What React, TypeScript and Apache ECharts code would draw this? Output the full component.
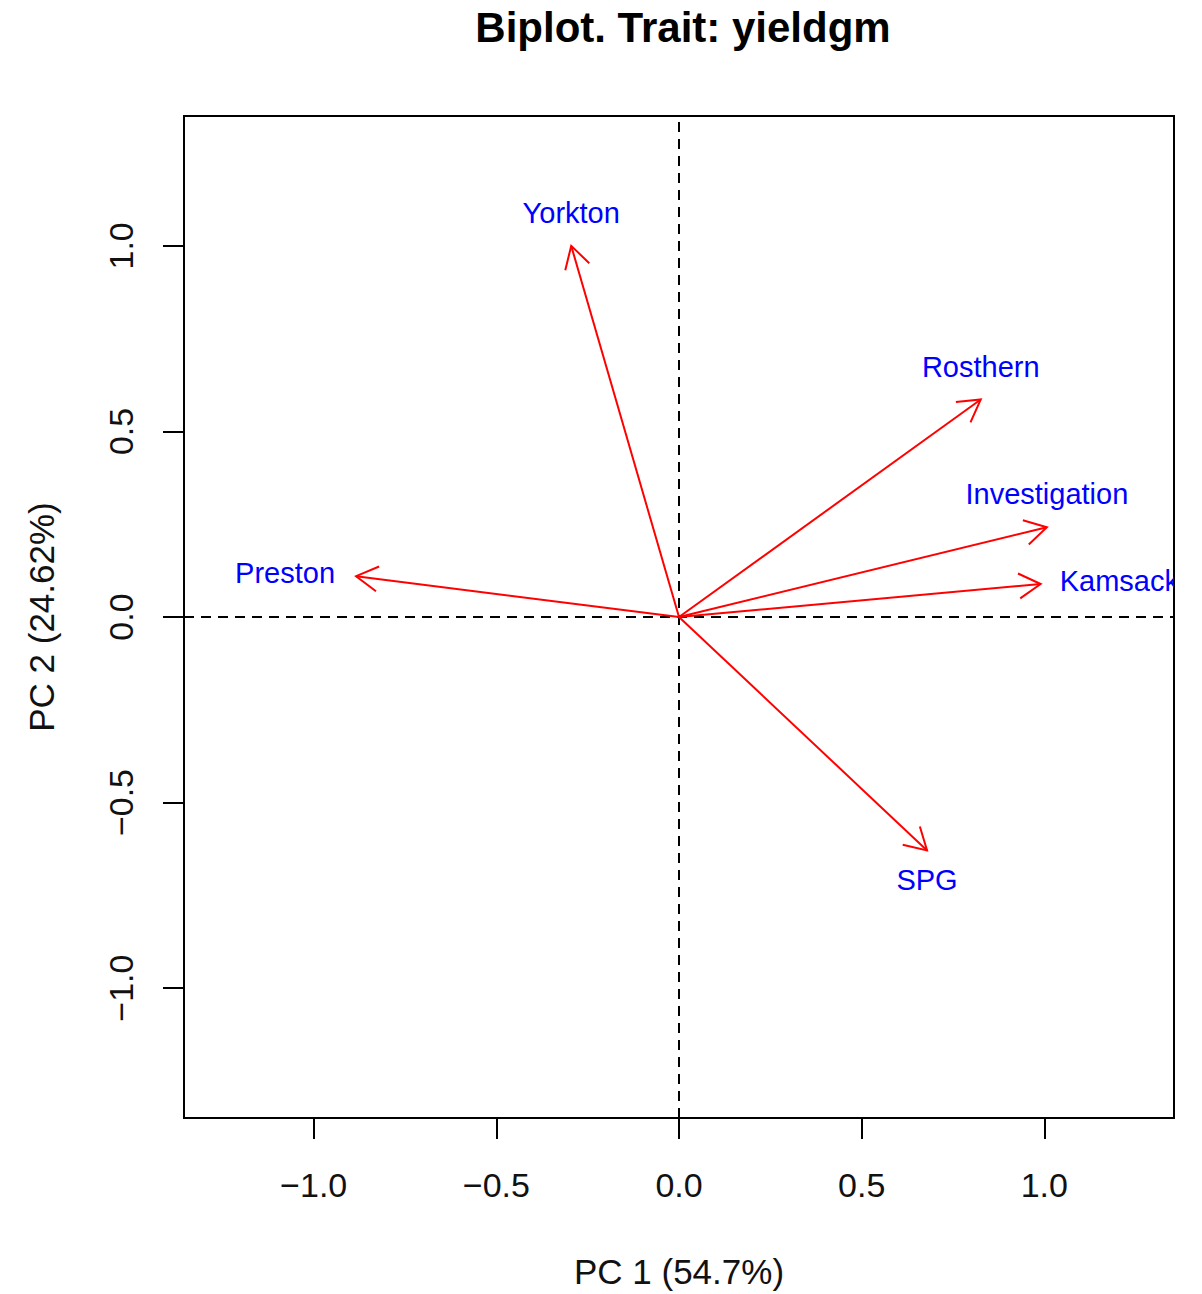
import React, { useEffect, useRef } from "react";
import * as echarts from "echarts";

const titleText = "Biplot. Trait: yieldgm";
const xName = "PC 1 (54.7%)";
const yName = "PC 2 (24.62%)";
const sites = ["Yorkton", "Rosthern", "Investigation", "Kamsack", "Preston", "SPG"];
const pc1 = [-0.295, 0.826, 1.007, 0.99, -0.884, 0.679];
const pc2 = [1.0, 0.586, 0.242, 0.089, 0.11, -0.629];
const labelPlacement = ["top", "top", "top", "right", "left", "bottom"];
const xTicks = [-1, -0.5, 0, 0.5, 1];
const yTicks = [-1, -0.5, 0, 0.5, 1];

const FONT = "'Liberation Sans', Arial, sans-serif";
const fmt = (v: number) => v.toFixed(1).replace("-", "\u2212");

export default function App() {
  const ref = useRef<HTMLDivElement>(null);
  useEffect(() => {
    document.body.style.margin = "0";
    const chart = echarts.init(ref.current!, null, { renderer: "svg" });
    const data = sites.map((s, i) => [pc1[i], pc2[i], i]);
    chart.setOption({
      animation: false,
      backgroundColor: "#fff",
      title: {
        text: titleText,
        left: 678,
        top: 1,
        textAlign: "center",
        textStyle: { fontFamily: FONT, fontSize: 42, fontWeight: "bold", color: "#000" },
      },
      grid: {
        left: 184,
        right: 28,
        top: 116,
        bottom: 174,
        show: true,
        borderColor: "#000",
        borderWidth: 2,
        backgroundColor: "transparent",
      },
      graphic: [
        {
          type: "rect",
          left: 1176,
          top: 0,
          shape: { width: 30, height: 1294 },
          style: { fill: "#fff" },
          z: 100,
          silent: true,
        },
      ],
      xAxis: {
        type: "value",
        min: -1.355,
        max: 1.355,
        name: xName,
        nameLocation: "middle",
        nameGap: 136,
        nameTextStyle: { fontFamily: FONT, fontSize: 35, color: "#111" },
        axisLine: { show: true, onZero: false, lineStyle: { color: "#000", width: 2 } },
        axisTick: { show: true, length: 21, customValues: xTicks, lineStyle: { color: "#000", width: 2 } },
        axisLabel: {
          customValues: xTicks,
          formatter: (v: number) => fmt(v),
          margin: 50,
          fontFamily: FONT,
          fontSize: 34,
          color: "#111",
        },
        splitLine: { show: false },
      },
      yAxis: {
        type: "value",
        min: -1.35,
        max: 1.35,
        name: yName,
        nameLocation: "middle",
        nameGap: 125,
        nameRotate: 90,
        nameTextStyle: { fontFamily: FONT, fontSize: 35, color: "#111" },
        axisLine: { show: true, onZero: false, lineStyle: { color: "#000", width: 2 } },
        axisTick: { show: true, length: 21, customValues: yTicks, lineStyle: { color: "#000", width: 2 } },
        axisLabel: {
          customValues: yTicks,
          formatter: (v: number) => fmt(v),
          rotate: 90,
          margin: 46,
          fontFamily: FONT,
          fontSize: 34,
          color: "#111",
        },
        splitLine: { show: false },
      },
      series: [
        {
          type: "custom",
          name: "arrows",
          data,
          clip: true,
          renderItem: (params: any, api: any) => {
            const tip = api.coord([api.value(0), api.value(1)]);
            const o = api.coord([0, 0]);
            const dx = o[0] - tip[0];
            const dy = o[1] - tip[1];
            const ang = Math.atan2(dy, dx);
            const L = 25;
            const a = (30 * Math.PI) / 180;
            const p1 = [tip[0] + L * Math.cos(ang + a), tip[1] + L * Math.sin(ang + a)];
            const p2 = [tip[0] + L * Math.cos(ang - a), tip[1] + L * Math.sin(ang - a)];
            return {
              type: "group",
              children: [
                {
                  type: "line",
                  shape: { x1: o[0], y1: o[1], x2: tip[0], y2: tip[1] },
                  style: { stroke: "#ff0000", lineWidth: 2 },
                },
                {
                  type: "polyline",
                  shape: { points: [p1, tip, p2] },
                  style: { stroke: "#ff0000", lineWidth: 2, fill: null },
                },
              ],
            };
          },
          markLine: {
            silent: true,
            symbol: ["none", "none"],
            label: { show: false },
            lineStyle: { color: "#000", width: 2, type: [10, 7] },
            data: [{ xAxis: 0 }, { yAxis: 0 }],
            z: 1,
          },
          z: 3,
        },
        {
          type: "custom",
          name: "labels",
          data,
          clip: true,
          renderItem: (params: any, api: any) => {
            const i = api.value(2);
            const tip = api.coord([api.value(0), api.value(1)]);
            const pos = labelPlacement[i];
            let x = tip[0];
            let y = tip[1];
            let align = "center";
            if (pos === "top") y -= 33;
            else if (pos === "bottom") y += 30;
            else if (pos === "right") {
              x += 19;
              y -= 3;
              align = "left";
            } else if (pos === "left") {
              x -= 21;
              y -= 3;
              align = "right";
            }
            return {
              type: "text",
              x,
              y,
              style: {
                text: sites[i],
                fill: "#0000ff",
                fontSize: 29,
                fontFamily: FONT,
                align,
                verticalAlign: "middle",
              },
            };
          },
          z: 4,
        },
      ],
    });
    return () => chart.dispose();
  }, []);
  return <div ref={ref} style={{ width: 1202, height: 1294 }} />;
}
